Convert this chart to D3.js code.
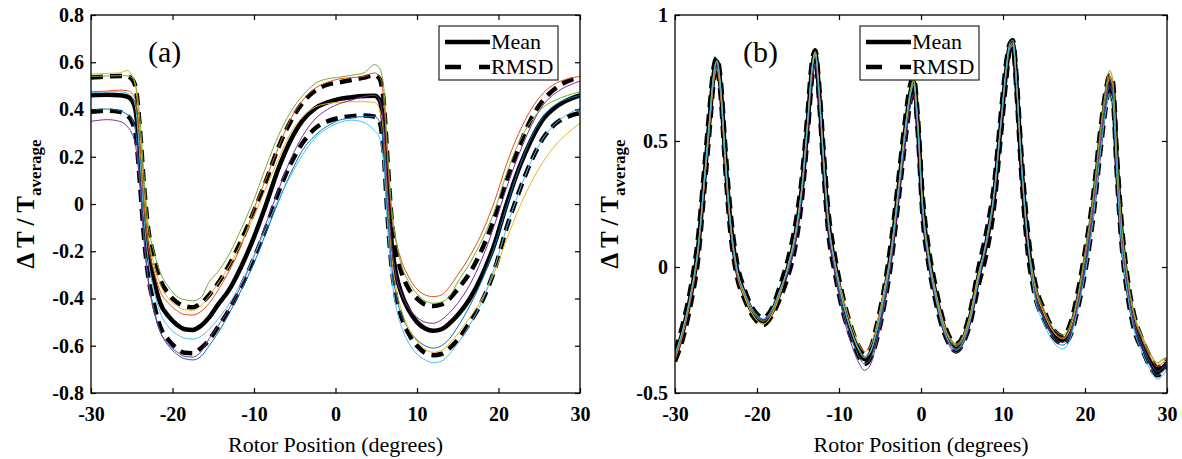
<!DOCTYPE html>
<html>
<head>
<meta charset="utf-8">
<script src="https://cdn.jsdelivr.net/npm/d3@7"></script>
<style>
  html, body { margin: 0; padding: 0; background: #fff; }
  svg, svg text { font-family: "Liberation Serif", "Times New Roman", Times, "Nimbus Roman", "DejaVu Serif", serif; }
</style>
</head>
<body>
<svg id="chart" width="1182" height="459"></svg>
<script>
// ---- shared axis data ----
const xTicks = [-30, -20, -10, 0, 10, 20, 30];
const yTicksA = [-0.8, -0.6, -0.4, -0.2, 0, 0.2, 0.4, 0.6, 0.8];
const yTicksB = [-0.5, 0, 0.5, 1];
const runColors = ["#0072BD", "#D95319", "#EDB120", "#7E2F8E", "#77AC30", "#4DBEEE"];
const legendLabels = ["Mean", "RMSD"];
const serif = "'Liberation Serif', 'Times New Roman', Times, 'Nimbus Roman', 'DejaVu Serif', serif";

// ---- panel (a) ----
const xA = [-30, -28, -26.5, -25.6, -25.0, -24.5, -24.0, -23.5, -23.0, -22.3, -21.5, -20.5, -19.5, -18.5, -17.5,
  -16.5, -15.5, -14.5, -13, -11.5, -10, -8.5, -7, -5.5, -4, -2.5, -1, 0.5, 2, 3.5, 4.8, 5.4, 5.9, 6.4, 6.9,
  7.4, 8.1, 9, 10, 11, 12, 13, 14, 15, 16.5, 18, 19.5, 21, 22.5, 24, 25.5, 27, 28.5, 30];
const meanA = [0.460, 0.462, 0.460, 0.455, 0.44, 0.39, 0.20, -0.03, -0.20, -0.32, -0.42, -0.475, -0.51, -0.53, -0.533,
  -0.515, -0.48, -0.43, -0.36, -0.26, -0.14, 0.00, 0.15, 0.27, 0.355, 0.405, 0.43, 0.445, 0.452, 0.457,
  0.458, 0.44, 0.33, 0.06, -0.17, -0.29, -0.38, -0.45, -0.50, -0.527, -0.537, -0.53, -0.505, -0.47, -0.40,
  -0.30, -0.17, 0.0, 0.15, 0.27, 0.36, 0.41, 0.44, 0.46];
const upperA = [0.535, 0.540, 0.542, 0.540, 0.53, 0.49, 0.32, 0.08, -0.10, -0.22, -0.32, -0.38, -0.415, -0.432, -0.437,
  -0.42, -0.385, -0.34, -0.255, -0.15, -0.03, 0.10, 0.24, 0.35, 0.43, 0.48, 0.505, 0.515, 0.525, 0.535,
  0.545, 0.53, 0.44, 0.18, -0.07, -0.19, -0.29, -0.36, -0.40, -0.425, -0.432, -0.425, -0.40, -0.36, -0.29,
  -0.19, -0.06, 0.10, 0.24, 0.36, 0.44, 0.49, 0.52, 0.535];
const lowerA = [0.39, 0.395, 0.39, 0.375, 0.35, 0.29, 0.09, -0.14, -0.30, -0.42, -0.52, -0.575, -0.61, -0.63, -0.632,
  -0.61, -0.575, -0.525, -0.445, -0.345, -0.23, -0.10, 0.05, 0.17, 0.26, 0.32, 0.35, 0.365, 0.372, 0.375,
  0.37, 0.35, 0.22, -0.06, -0.27, -0.39, -0.48, -0.55, -0.60, -0.63, -0.64, -0.635, -0.61, -0.575, -0.50,
  -0.41, -0.28, -0.10, 0.05, 0.18, 0.28, 0.34, 0.37, 0.385];
const runA1 = [0.40, 0.402, 0.395, 0.38, 0.36, 0.30, 0.10, -0.14, -0.31, -0.44, -0.54, -0.60, -0.635, -0.655, -0.66,
  -0.645, -0.60, -0.55, -0.46, -0.36, -0.25, -0.12, 0.01, 0.13, 0.23, 0.29, 0.33, 0.355, 0.365, 0.37,
  0.37, 0.35, 0.24, -0.04, -0.26, -0.38, -0.47, -0.53, -0.575, -0.60, -0.61, -0.60, -0.57, -0.52, -0.43,
  -0.32, -0.18, -0.01, 0.15, 0.28, 0.37, 0.42, 0.445, 0.46];
const runA2 = [0.475, 0.478, 0.482, 0.48, 0.47, 0.43, 0.24, 0.0, -0.17, -0.28, -0.37, -0.42, -0.45, -0.468, -0.47,
  -0.455, -0.42, -0.37, -0.28, -0.17, -0.02, 0.11, 0.24, 0.36, 0.44, 0.49, 0.515, 0.53, 0.535, 0.54,
  0.555, 0.54, 0.45, 0.18, -0.05, -0.15, -0.24, -0.31, -0.36, -0.385, -0.392, -0.385, -0.35, -0.30, -0.22,
  -0.12, 0.01, 0.17, 0.30, 0.40, 0.47, 0.51, 0.53, 0.54];
const runA3 = [0.55, 0.553, 0.555, 0.565, 0.545, 0.49, 0.30, 0.05, -0.13, -0.25, -0.34, -0.40, -0.43, -0.448, -0.45,
  -0.43, -0.39, -0.34, -0.26, -0.16, -0.05, 0.07, 0.19, 0.30, 0.37, 0.41, 0.425, 0.43, 0.433, 0.433,
  0.43, 0.40, 0.30, 0.02, -0.22, -0.35, -0.45, -0.53, -0.58, -0.615, -0.628, -0.62, -0.59, -0.55, -0.48,
  -0.40, -0.29, -0.15, -0.02, 0.09, 0.18, 0.25, 0.30, 0.343];
const runA4 = [0.35, 0.357, 0.35, 0.33, 0.30, 0.24, 0.08, -0.15, -0.32, -0.45, -0.54, -0.595, -0.625, -0.645, -0.648,
  -0.625, -0.57, -0.52, -0.44, -0.34, -0.22, -0.08, 0.06, 0.19, 0.29, 0.36, 0.40, 0.425, 0.44, 0.455,
  0.46, 0.44, 0.33, 0.05, -0.18, -0.30, -0.38, -0.44, -0.48, -0.50, -0.505, -0.49, -0.46, -0.42, -0.34,
  -0.23, -0.09, 0.07, 0.21, 0.33, 0.42, 0.47, 0.50, 0.52];
const runA5 = [0.54, 0.542, 0.543, 0.543, 0.535, 0.50, 0.36, 0.12, -0.08, -0.20, -0.29, -0.35, -0.39, -0.405, -0.41,
  -0.395, -0.33, -0.29, -0.21, -0.10, 0.02, 0.16, 0.29, 0.39, 0.46, 0.51, 0.53, 0.537, 0.545, 0.555,
  0.59, 0.575, 0.50, 0.22, -0.02, -0.15, -0.26, -0.33, -0.38, -0.41, -0.42, -0.415, -0.39, -0.33, -0.25,
  -0.15, -0.03, 0.13, 0.26, 0.35, 0.41, 0.44, 0.46, 0.475];
const runA6 = [0.47, 0.475, 0.475, 0.47, 0.455, 0.40, 0.19, -0.06, -0.23, -0.36, -0.46, -0.52, -0.55, -0.568, -0.572,
  -0.56, -0.53, -0.49, -0.42, -0.33, -0.22, -0.10, 0.02, 0.12, 0.21, 0.28, 0.32, 0.345, 0.355, 0.345,
  0.31, 0.28, 0.17, -0.10, -0.31, -0.43, -0.52, -0.59, -0.635, -0.66, -0.672, -0.665, -0.635, -0.59, -0.51,
  -0.41, -0.27, -0.10, 0.05, 0.18, 0.28, 0.34, 0.38, 0.405];

// ---- panel (b) ----
const xB = [-30, -29, -28, -27.2, -26.5, -25.8, -25.3, -24.9, -24.4, -23.9, -23.3, -22.5, -21.5, -20.3, -19.2,
  -18.2, -17.2, -16.2, -15.3, -14.5, -13.8, -13.3, -12.9, -12.4, -11.9, -11.3, -10.5, -9.5, -8.4, -7.5,
  -6.9, -6.2, -5.4, -4.5, -3.6, -2.7, -1.9, -1.3, -0.9, -0.4, 0.2, 0.9, 1.8, 2.8, 3.6, 4.3, 5.1, 6.0, 7.0,
  8.0, 8.9, 9.7, 10.4, 10.8, 11.2, 11.7, 12.2, 12.9, 13.8, 15.0, 16.2, 17.3, 18.3, 19.2, 20.1, 21.0, 21.8,
  22.5, 23.0, 23.4, 23.9, 24.5, 25.2, 26.0, 27.0, 28.0, 28.8, 29.5, 30];
const meanB = [-0.355, -0.25, -0.10, 0.07, 0.32, 0.58, 0.76, 0.815, 0.70, 0.45, 0.20, 0.00, -0.11, -0.19, -0.215,
  -0.18, -0.10, 0.00, 0.13, 0.32, 0.58, 0.78, 0.845, 0.68, 0.43, 0.18, 0.01, -0.15, -0.27, -0.34,
  -0.365, -0.345, -0.26, -0.12, 0.07, 0.32, 0.55, 0.69, 0.735, 0.57, 0.24, 0.05, -0.11, -0.24, -0.30, -0.32,
  -0.29, -0.20, -0.04, 0.10, 0.28, 0.55, 0.78, 0.87, 0.885, 0.70, 0.43, 0.14, -0.07, -0.19, -0.265, -0.29,
  -0.24, -0.12, 0.04, 0.24, 0.48, 0.66, 0.74, 0.70, 0.40, 0.12, -0.08, -0.22, -0.31, -0.38, -0.415, -0.40, -0.38];
const rmsdB = [0.02, 0.03, 0.035, 0.045, 0.045, 0.045, 0.03, 0.015, 0.035, 0.045, 0.045, 0.03, 0.02, 0.015, 0.015,
  0.015, 0.025, 0.035, 0.045, 0.045, 0.045, 0.035, 0.015, 0.035, 0.045, 0.045, 0.035, 0.03, 0.02, 0.02,
  0.02, 0.02, 0.03, 0.035, 0.045, 0.045, 0.045, 0.035, 0.02, 0.035, 0.045, 0.035, 0.03, 0.02, 0.015, 0.015,
  0.015, 0.025, 0.035, 0.045, 0.045, 0.045, 0.035, 0.015, 0.015, 0.035, 0.045, 0.045, 0.03, 0.02, 0.015, 0.015,
  0.025, 0.035, 0.045, 0.045, 0.045, 0.035, 0.02, 0.035, 0.045, 0.045, 0.035, 0.03, 0.02, 0.02, 0.015, 0.015, 0.015];
const runB1 = [-0.355, -0.25, -0.10, 0.07, 0.32, 0.58, 0.76, 0.815, 0.70, 0.45, 0.20, 0.00, -0.105, -0.185, -0.21,
  -0.175, -0.095, -0.01, 0.12, 0.31, 0.57, 0.77, 0.835, 0.67, 0.42, 0.17, 0.0, -0.17, -0.29, -0.36,
  -0.385, -0.365, -0.28, -0.14, 0.06, 0.31, 0.54, 0.68, 0.725, 0.56, 0.23, 0.04, -0.115, -0.245, -0.305, -0.325,
  -0.295, -0.205, -0.045, 0.10, 0.28, 0.55, 0.78, 0.87, 0.885, 0.70, 0.43, 0.14, -0.09, -0.21, -0.285, -0.31,
  -0.26, -0.14, 0.02, 0.22, 0.46, 0.64, 0.72, 0.68, 0.38, 0.10, -0.095, -0.235, -0.325, -0.395, -0.43, -0.415, -0.39];
const runB2 = [-0.37, -0.265, -0.115, 0.05, 0.30, 0.56, 0.74, 0.795, 0.68, 0.43, 0.18, -0.02, -0.12, -0.20, -0.225,
  -0.19, -0.11, 0.00, 0.13, 0.32, 0.58, 0.78, 0.845, 0.68, 0.43, 0.18, 0.01, -0.145, -0.265, -0.335,
  -0.36, -0.34, -0.255, -0.115, 0.07, 0.32, 0.55, 0.69, 0.735, 0.57, 0.24, 0.05, -0.095, -0.225, -0.285, -0.305,
  -0.275, -0.185, -0.025, 0.10, 0.28, 0.55, 0.78, 0.87, 0.885, 0.70, 0.43, 0.14, -0.06, -0.18, -0.255, -0.28,
  -0.23, -0.11, 0.06, 0.26, 0.50, 0.68, 0.76, 0.72, 0.42, 0.14, -0.06, -0.20, -0.29, -0.36, -0.395, -0.38, -0.37];
const runB3 = [-0.36, -0.255, -0.105, 0.06, 0.30, 0.55, 0.73, 0.785, 0.67, 0.42, 0.18, -0.01, -0.12, -0.20, -0.227,
  -0.19, -0.11, 0.01, 0.14, 0.33, 0.59, 0.79, 0.855, 0.69, 0.44, 0.19, 0.02, -0.12, -0.24, -0.31,
  -0.335, -0.315, -0.23, -0.09, 0.075, 0.325, 0.555, 0.695, 0.74, 0.575, 0.245, 0.055, -0.10, -0.23, -0.29, -0.31,
  -0.28, -0.19, -0.03, 0.095, 0.275, 0.545, 0.775, 0.865, 0.88, 0.695, 0.425, 0.135, -0.065, -0.185, -0.26, -0.285,
  -0.235, -0.115, 0.05, 0.25, 0.49, 0.67, 0.75, 0.71, 0.41, 0.13, -0.05, -0.19, -0.28, -0.35, -0.385, -0.37, -0.365];
const runB4 = [-0.355, -0.25, -0.10, 0.06, 0.31, 0.57, 0.75, 0.805, 0.69, 0.44, 0.19, -0.01, -0.105, -0.185, -0.21,
  -0.175, -0.095, -0.02, 0.10, 0.29, 0.55, 0.74, 0.805, 0.64, 0.40, 0.15, -0.02, -0.19, -0.315, -0.385,
  -0.41, -0.39, -0.30, -0.16, 0.03, 0.28, 0.50, 0.64, 0.685, 0.53, 0.21, 0.02, -0.13, -0.26, -0.32, -0.34,
  -0.31, -0.22, -0.06, 0.09, 0.27, 0.54, 0.77, 0.86, 0.875, 0.69, 0.42, 0.13, -0.08, -0.20, -0.275, -0.30,
  -0.25, -0.13, 0.04, 0.24, 0.48, 0.66, 0.74, 0.70, 0.40, 0.12, -0.08, -0.22, -0.31, -0.38, -0.415, -0.40, -0.38];
const runB5 = [-0.35, -0.245, -0.095, 0.075, 0.325, 0.585, 0.765, 0.82, 0.705, 0.455, 0.205, 0.005, -0.11, -0.19, -0.215,
  -0.18, -0.10, 0.005, 0.135, 0.325, 0.585, 0.785, 0.85, 0.685, 0.435, 0.185, 0.015, -0.145, -0.265, -0.335,
  -0.36, -0.34, -0.255, -0.115, 0.08, 0.33, 0.56, 0.70, 0.745, 0.58, 0.25, 0.06, -0.105, -0.235, -0.295, -0.315,
  -0.285, -0.195, -0.035, 0.105, 0.285, 0.555, 0.785, 0.875, 0.89, 0.705, 0.435, 0.145, -0.05, -0.17, -0.245, -0.27,
  -0.22, -0.10, 0.08, 0.28, 0.52, 0.70, 0.78, 0.74, 0.44, 0.16, -0.045, -0.185, -0.275, -0.345, -0.38, -0.365, -0.36];
const runB6 = [-0.345, -0.24, -0.09, 0.07, 0.32, 0.58, 0.76, 0.815, 0.70, 0.45, 0.20, 0.00, -0.10, -0.18, -0.205,
  -0.17, -0.09, 0.00, 0.13, 0.32, 0.58, 0.78, 0.845, 0.68, 0.43, 0.18, 0.01, -0.14, -0.26, -0.33,
  -0.355, -0.335, -0.25, -0.11, 0.06, 0.31, 0.54, 0.68, 0.725, 0.56, 0.23, 0.04, -0.12, -0.25, -0.31, -0.33,
  -0.30, -0.21, -0.05, 0.115, 0.295, 0.565, 0.795, 0.885, 0.90, 0.715, 0.445, 0.155, -0.105, -0.225, -0.30, -0.325,
  -0.275, -0.155, -0.01, 0.19, 0.43, 0.61, 0.69, 0.65, 0.35, 0.07, -0.11, -0.25, -0.34, -0.41, -0.445, -0.43, -0.405];

const svg = d3.select("#chart");

function drawPanel(cfg) {
  const { left, right, top, bottom } = cfg;
  const x = d3.scaleLinear().domain([-30, 30]).range([left, right]);
  const y = d3.scaleLinear().domain(cfg.yDomain).range([bottom, top]);
  const g = svg.append("g").attr("font-family", serif);

  const clipId = `clip-${cfg.id}`;
  g.append("clipPath").attr("id", clipId)
    .append("rect")
    .attr("x", left).attr("y", top)
    .attr("width", right - left).attr("height", bottom - top);

  const line = (xs) => d3.line()
    .x((d, i) => x(xs[i]))
    .y((d) => y(d))
    .curve(d3.curveMonotoneX);

  const plot = g.append("g").attr("clip-path", `url(#${clipId})`);

  // black band first, coloured runs drawn over it
  [cfg.upper, cfg.lower].forEach((vals) => {
    plot.append("path")
      .attr("d", line(cfg.xs)(vals))
      .attr("fill", "none")
      .attr("stroke", "#000")
      .attr("stroke-width", 4.5)
      .attr("stroke-dasharray", "12,7");
  });
  plot.append("path")
    .attr("d", line(cfg.xs)(cfg.mean))
    .attr("fill", "none")
    .attr("stroke", "#000")
    .attr("stroke-width", 4.5);

  cfg.runs.forEach((vals, i) => {
    plot.append("path")
      .attr("d", line(cfg.xs)(vals))
      .attr("fill", "none")
      .attr("stroke", runColors[i])
      .attr("stroke-width", 1);
  });

  // axes, ticks inside on all four sides
  const fontStyle = (sel) => {
    sel.attr("font-family", serif);
    sel.selectAll("text")
      .attr("font-family", serif)
      .style("font-size", "20px")
      .style("font-weight", "bold")
      .style("fill", "#000");
  };

  g.append("g")
    .attr("transform", `translate(0, ${bottom})`)
    .call(d3.axisBottom(x).tickValues(xTicks).tickSizeInner(-5).tickSizeOuter(0).tickPadding(14)
      .tickFormat((d) => String(d)))
    .call(fontStyle);
  g.append("g")
    .attr("transform", `translate(0, ${top})`)
    .call(d3.axisTop(x).tickValues(xTicks).tickSizeInner(-5).tickSizeOuter(0).tickFormat(""));
  g.append("g")
    .attr("transform", `translate(${left}, 0)`)
    .call(d3.axisLeft(y).tickValues(cfg.yTicks).tickSizeInner(-5).tickSizeOuter(0).tickPadding(7)
      .tickFormat(cfg.yFormat))
    .call(fontStyle);
  g.append("g")
    .attr("transform", `translate(${right}, 0)`)
    .call(d3.axisRight(y).tickValues(cfg.yTicks).tickSizeInner(-5).tickSizeOuter(0).tickFormat(""));

  g.selectAll(".domain").remove();
  g.selectAll(".tick line").attr("stroke", "#000").attr("stroke-width", 1.2);

  g.append("rect")
    .attr("x", left).attr("y", top)
    .attr("width", right - left).attr("height", bottom - top)
    .attr("fill", "none")
    .attr("stroke", "#000")
    .attr("stroke-width", 1.3);

  // axis titles
  g.append("text")
    .attr("x", (left + right) / 2)
    .attr("y", bottom + 59)
    .attr("text-anchor", "middle")
    .style("font-size", "22px")
    .text("Rotor Position (degrees)");

  const yLab = g.append("text")
    .attr("transform", `translate(${left - 57}, ${(top + bottom) / 2}) rotate(-90)`)
    .attr("text-anchor", "middle")
    .style("font-size", "25px")
    .style("font-weight", "bold");
  yLab.append("tspan").text("\u0394 T / T");
  yLab.append("tspan").attr("dy", 7).style("font-size", "17px").text("average");

  // panel tag
  g.append("text")
    .attr("x", cfg.tagX)
    .attr("y", 62)
    .style("font-size", "30px")
    .text(cfg.tag);

  // legend
  const lg = g.append("g").attr("transform", `translate(${cfg.legendX}, 26)`);
  lg.append("rect")
    .attr("x", 0).attr("y", 0)
    .attr("width", 119).attr("height", 54)
    .attr("fill", "#fff")
    .attr("stroke", "#262626")
    .attr("stroke-width", 1.2);
  legendLabels.forEach((label, i) => {
    const ly = 16 + i * 25;
    lg.append("line")
      .attr("x1", 6).attr("x2", 51)
      .attr("y1", ly).attr("y2", ly)
      .attr("stroke", "#000")
      .attr("stroke-width", 4.5)
      .attr("stroke-dasharray", i === 0 ? null : "16,18");
    lg.append("text")
      .attr("x", 52)
      .attr("y", ly + 7)
      .style("font-size", "22px")
      .text(label);
  });
}

drawPanel({
  id: "a", left: 91, right: 580, top: 15, bottom: 393,
  yDomain: [-0.8, 0.8], yTicks: yTicksA,
  yFormat: (d) => (d === 0 ? "0" : d.toFixed(1)),
  xs: xA, mean: meanA, upper: upperA, lower: lowerA,
  runs: [runA1, runA2, runA3, runA4, runA5, runA6],
  tag: "(a)", tagX: 148, legendX: 439,
});

drawPanel({
  id: "b", left: 675, right: 1167, top: 15, bottom: 393,
  yDomain: [-0.5, 1], yTicks: yTicksB,
  yFormat: (d) => String(d),
  xs: xB, mean: meanB,
  upper: meanB.map((m, i) => m + rmsdB[i]),
  lower: meanB.map((m, i) => m - rmsdB[i]),
  runs: [runB1, runB2, runB3, runB4, runB5, runB6],
  tag: "(b)", tagX: 743, legendX: 860,
});
</script>
</body>
</html>
